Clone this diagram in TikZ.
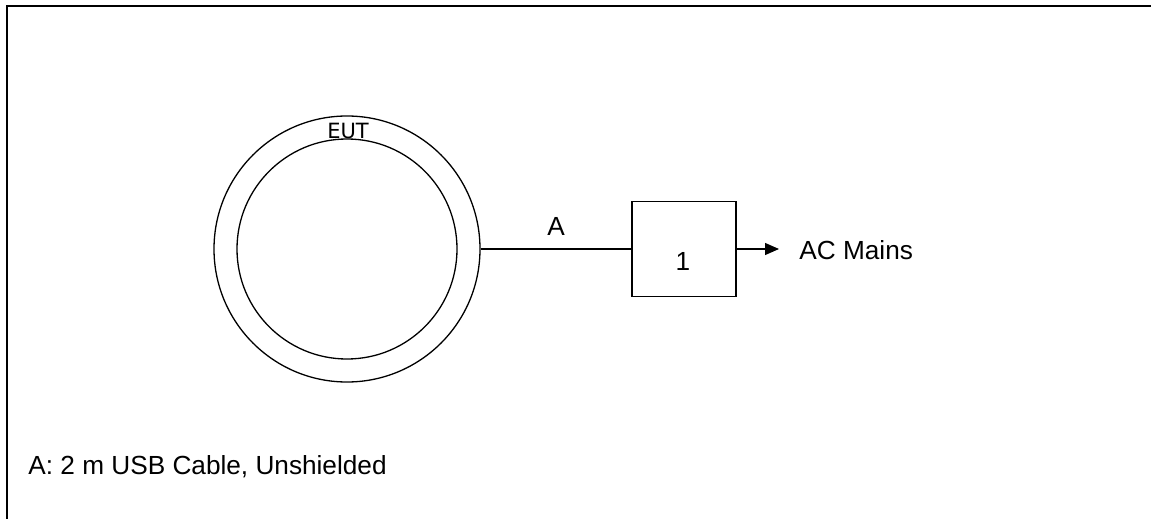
\documentclass[tikz,border=0pt]{standalone}
\usepackage{fontspec}
\setmainfont{Liberation Sans}
\newfontfamily\eutfont{DejaVu Sans}
\usetikzlibrary{arrows.meta}
\begin{document}
\begin{tikzpicture}[x=0.5pt,y=-0.5pt,
  lbl/.style={font=\fontsize{13.1}{15}\selectfont, inner sep=0pt},
  conn/.style={line width=0.65pt},
  ring/.style={draw, circle, line width=0.65pt, inner sep=0pt}]
\useasboundingbox (0,0) rectangle (1151,519);
% frame (only top and left edges visible)
\draw[line width=0.9pt] (1151,6) -- (7,6) -- (7,519);
% EUT rings
\node[ring, minimum size=133pt] (outer) at (347,249) {};
\node[ring, minimum size=110pt] (inner) at (347,249) {};
\node[font=\fontsize{10.5}{12}\selectfont\eutfont, inner sep=0pt] (eut) at (348,131) {EUT};
% box 1
\node[draw, line width=0.65pt, minimum width=52pt, minimum height=47.5pt, inner sep=0pt] (box) at (684,249) {};
\node[lbl] (one) at (683,261) {1};
% cable A
\draw[conn] (outer.east) -- (box.west) node[midway, above=6.5pt, lbl] (a) {A};
% arrow to mains
\coordinate (tip) at (779,249);
\draw[conn, -{Triangle[length=7pt,width=6pt]}] (box.east) -- (tip);
\node[lbl, anchor=west] (mains) at (799,250) {AC Mains};
% note
\node[lbl, anchor=west] (note) at (28,467) {A: 2 m USB Cable, Unshielded};
\end{tikzpicture}
\end{document}
